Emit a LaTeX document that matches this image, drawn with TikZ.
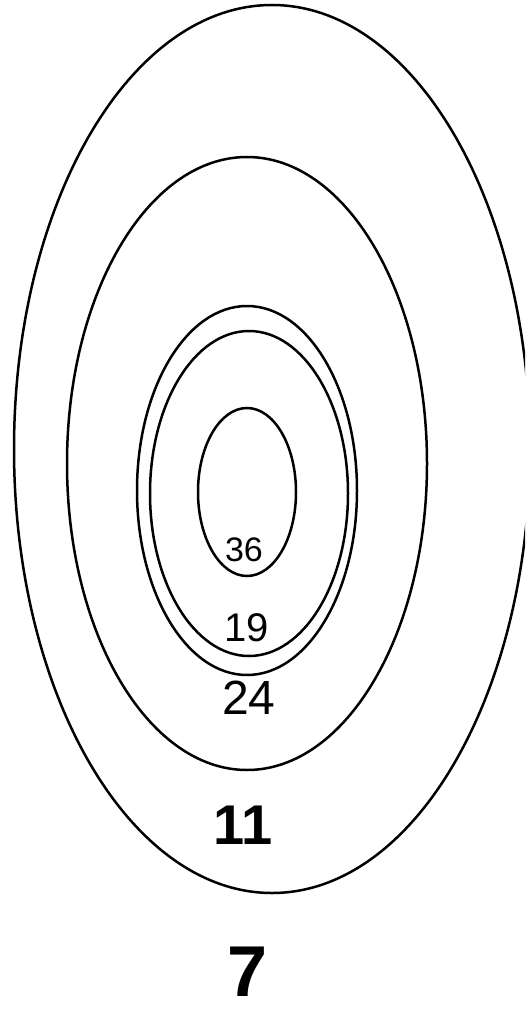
\documentclass[tikz,border=0pt]{standalone}
\usepackage{fontspec}
\setmainfont{Liberation Sans}
\usetikzlibrary{positioning, shapes.geometric}

\begin{document}
\begin{tikzpicture}[
    x=1pt, y=-1pt,
    % rings of the target
    ring/.style={ellipse, draw=black, line width=2.5pt, inner sep=0pt},
    num/.style={inner sep=0pt, font=\fontsize{#1}{#1}\selectfont},
    bignum/.style={inner sep=0pt, font=\fontsize{#1}{#1}\selectfont\bfseries},
]
\clip (0,0) rectangle (525,1011);

\node[ring, minimum width=516, minimum height=888] (r7)  at (272,449)   {};
\node[ring, minimum width=360, minimum height=613] (r11) at (247,463.5) {};
\node[ring, minimum width=220, minimum height=369] (r24) at (247,490.5) {};
\node[ring, minimum width=198, minimum height=325] (r19) at (249,493.5) {};
\node[ring, minimum width=98,  minimum height=168] (r36) at (247,492)   {};

\node[num=34]    (l36) at (244,550) {36};
\node[num=40]    (l19) at (247,628) {19};
\node[num=48]    (l24) at (249,698) {24};
\node[bignum=56] (l11) at (243,825) {11};
\node[bignum=72] (l7)  at (248,972) {7};
\end{tikzpicture}
\end{document}
